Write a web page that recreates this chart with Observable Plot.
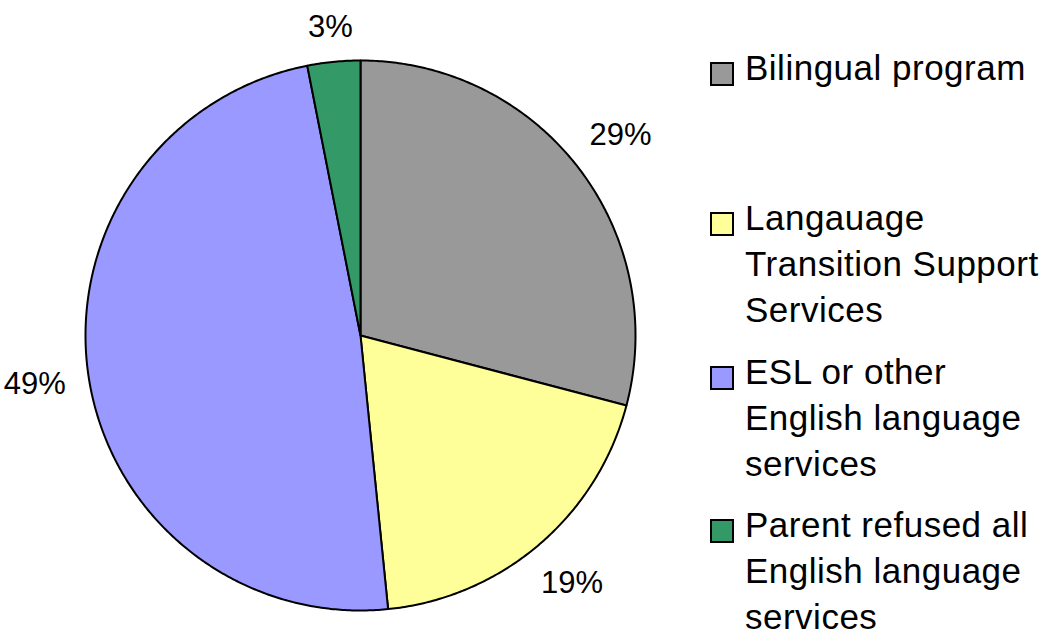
<!DOCTYPE html>
<html>
<head>
<meta charset="utf-8">
<script src="https://cdn.jsdelivr.net/npm/d3@7"></script>
<script src="https://cdn.jsdelivr.net/npm/@observablehq/plot@0.6"></script>
<style>
  html, body { margin: 0; padding: 0; background: #fff; }
  #wrap { position: relative; width: 1049px; height: 633px; overflow: hidden; font-family: "Liberation Sans", Arial, sans-serif; }
  #chart { position: absolute; left: 0; top: 0; }
  .item { position: absolute; left: 710px; font-size: 35px; line-height: 46px; color: #000; letter-spacing: 0.5px; }
  .item .box { position: absolute; left: 0; top: 17px; width: 20px; height: 20px; border: 2px solid #000; box-sizing: content-box; }
  .item .txt { position: absolute; left: 35px; top: 0; white-space: nowrap; }
</style>
</head>
<body>
<div id="wrap">
  <div id="chart"></div>
  <div id="legend"></div>
</div>
<script>
const categories = [
  "Bilingual program",
  "Langauage Transition Support Services",
  "ESL or other English language services",
  "Parent refused all English language services"
];
const values = [29.1, 19.3, 48.5, 3.1];
const valueLabels = ["29%", "19%", "49%", "3%"];
const colors = ["#999999", "#FFFF99", "#9999FF", "#339966"];
const legendLines = [
  ["Bilingual program"],
  ["Langauage", "Transition Support", "Services"],
  ["ESL or other", "English language", "services"],
  ["Parent refused all", "English language", "services"]
];

const R = 275;           // pie radius in px
const labelFont = 31;
const gap = 22;

const arcs = d3.pie().sort(null).value(d => d)(values);

// polygon vertices for each slice (center -> arc -> center)
const slicePts = [];
arcs.forEach((a, i) => {
  const name = categories[i];
  slicePts.push({name, x: 0, y: 0});
  const n = Math.max(4, Math.ceil((a.endAngle - a.startAngle) / (Math.PI / 360)));
  for (let k = 0; k <= n; k++) {
    const t = a.startAngle + (a.endAngle - a.startAngle) * k / n;
    slicePts.push({name, x: Math.sin(t), y: Math.cos(t)});
  }
  slicePts.push({name, x: 0, y: 0});
});

// label positions outside the pie
const labelPts = arcs.map((a, i) => {
  const m = (a.startAngle + a.endAngle) / 2;
  const s = valueLabels[i];
  const digits = s.replace("%", "").length;
  const w = labelFont * (0.556 * digits + 0.889);
  const h = labelFont * 0.716;
  const t = R + gap + (w / 2) * Math.abs(Math.sin(m)) + (h / 2) * Math.abs(Math.cos(m));
  return {label: s, x: Math.sin(m) * t / R, y: Math.cos(m) * t / R};
});

const cx = 360, cy = 335;
const plot = Plot.plot({
  width: 1049,
  height: 633,
  margin: 0,
  x: {domain: [-1, 1], range: [cx - R, cx + R], axis: null},
  y: {domain: [-1, 1], range: [cy + R, cy - R], axis: null},
  color: {domain: categories, range: colors},
  style: {background: "transparent", fontFamily: "'Liberation Sans', Arial, sans-serif"},
  marks: [
    Plot.line(slicePts, {
      x: "x", y: "y", z: "name", fill: "name",
      stroke: "#000", strokeWidth: 2, strokeLinejoin: "round", curve: "linear"
    }),
    Plot.text(labelPts, {
      x: "x", y: "y", text: "label", fontSize: labelFont, fill: "#000",
      textAnchor: "middle", lineAnchor: "middle"
    })
  ]
});
document.getElementById("chart").appendChild(plot);

// legend
const tops = [45, 195, 349, 502];
const legend = document.getElementById("legend");
legendLines.forEach((lines, i) => {
  const item = document.createElement("div");
  item.className = "item";
  item.style.top = tops[i] + "px";
  const box = document.createElement("div");
  box.className = "box";
  box.style.background = colors[i];
  const txt = document.createElement("div");
  txt.className = "txt";
  txt.innerHTML = lines.join("<br>");
  item.appendChild(box);
  item.appendChild(txt);
  legend.appendChild(item);
});
</script>
</body>
</html>
